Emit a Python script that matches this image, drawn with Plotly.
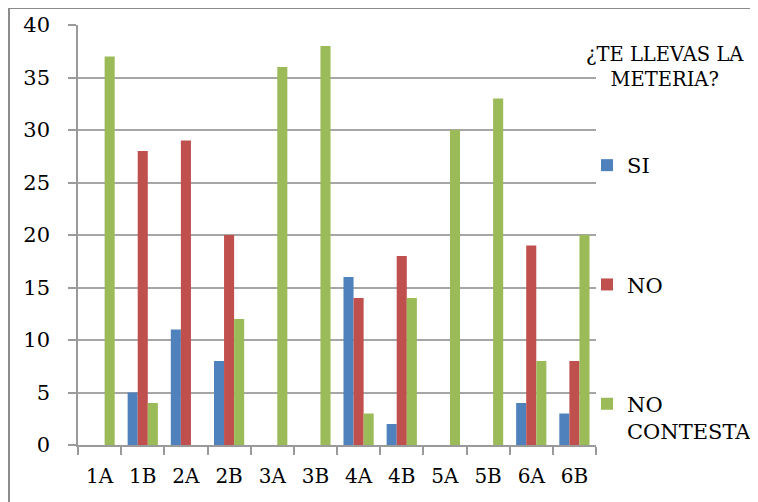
import plotly.graph_objects as go

categories = ["1A", "1B", "2A", "2B", "3A", "3B", "4A", "4B", "5A", "5B", "6A", "6B"]
si = [0, 5, 11, 8, 0, 0, 16, 2, 0, 0, 4, 3]
no = [0, 28, 29, 20, 0, 0, 14, 18, 0, 0, 19, 8]
no_contesta = [37, 4, 0, 12, 36, 38, 3, 14, 30, 33, 8, 20]
series_names = ["SI", "NO", "NO<br>CONTESTA"]
colors = ["#4F81BD", "#C0504D", "#9BBB59"]
legend_title = "¿TE LLEVAS LA<br>METERIA?"
y_ticks = [0, 5, 10, 15, 20, 25, 30, 35, 40]

FONT = "DejaVu Serif"
W, H = 758, 502
OFF = 8  # page body margin offset
# target plot area in screen pixels
PX0, PX1, PY0, PY1 = 78, 596, 25, 445
L = PX0 - OFF
T = PY0 - OFF
pw, ph = PX1 - PX0, PY1 - PY0
R = W - L - pw
B = H - T - ph


def px(x):
    return (x - PX0) / pw


def py(y):
    return (PY1 - y) / ph


fig = go.Figure()
for i, (name, vals) in enumerate(zip(series_names, [si, no, no_contesta])):
    fig.add_trace(go.Bar(
        x=categories, y=vals, name=name, legendgroup=f"g{i}",
        marker=dict(color=colors[i], line=dict(width=0)),
    ))

fig.update_layout(
    width=W, height=H,
    margin=dict(l=L, r=R, t=T, b=B, autoexpand=False),
    paper_bgcolor="white", plot_bgcolor="white",
    barmode="group", bargap=0.3, bargroupgap=0,
    font=dict(family=FONT, size=20, color="black"),
    showlegend=True,
    legend=dict(
        x=px(587), xanchor="left",
        y=py(145), yanchor="top",
        tracegroupgap=89, valign="top",
        font=dict(family=FONT, size=21, color="black"),
        itemwidth=30, bgcolor="rgba(0,0,0,0)",
        maxheight=420,
    ),
    xaxis=dict(
        type="category", showline=True, linecolor="#9a9a9a", linewidth=1.5,
        ticks="outside", tickson="boundaries", ticklen=8, tickcolor="#9a9a9a",
        tickwidth=1.5, showgrid=False, ticklabelstandoff=12, automargin=False,
        tickfont=dict(family=FONT, size=20),
    ),
    yaxis=dict(
        range=[0, 40], tickvals=y_ticks, showgrid=True, gridcolor="#a6a6a6",
        gridwidth=1.5, showline=True, linecolor="#9a9a9a", linewidth=1.5,
        ticks="outside", ticklen=8, tickcolor="#9a9a9a", tickwidth=1.5,
        ticklabelstandoff=14, zeroline=False, automargin=False,
        tickfont=dict(family=FONT, size=21),
    ),
    annotations=[dict(
        text=legend_title, xref="paper", yref="paper",
        x=px(665), y=py(41), xanchor="center", yanchor="top",
        showarrow=False, align="center",
        font=dict(family=FONT, size=19.5, color="black"),
    )],
    shapes=[dict(
        type="rect", xref="paper", yref="paper",
        x0=px(9), x1=px(753),
        y0=py(520), y1=py(8),
        line=dict(color="#8c8c8c", width=2), fillcolor="rgba(0,0,0,0)", layer="below",
    )],
)

fig.write_html("out.html")
